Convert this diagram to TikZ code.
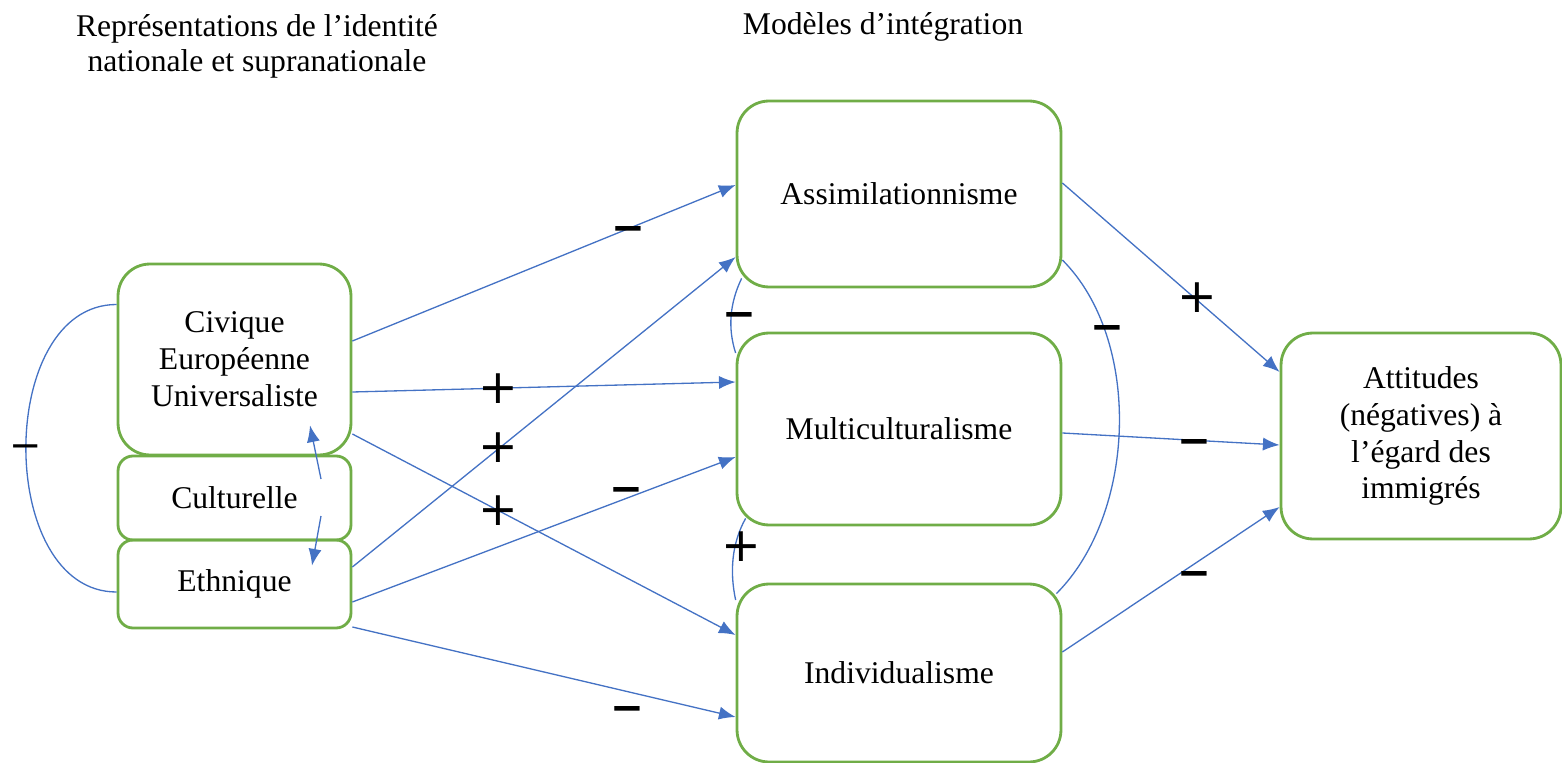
\documentclass[tikz,border=0pt]{standalone}
\usepackage{fontspec}
\setmainfont{Liberation Serif}
\newfontfamily\signfont{DejaVu Sans}
\usetikzlibrary{arrows.meta,calc}
\definecolor{boxgreen}{HTML}{70AD47}
\definecolor{linkblue}{HTML}{4472C4}

\begin{document}
\begin{tikzpicture}[x=0.02cm,y=-0.02cm]
		\tikzstyle{mybox}=[draw=boxgreen,line width=1.6pt,rounded corners=0.64cm,align=center,inner sep=0pt,font=\fontsize{18}{21}\selectfont]
		\tikzstyle{mysmallbox}=[mybox,rounded corners=0.3cm]
		\tikzstyle{mytitle}=[align=center,inner sep=0pt,font=\fontsize{18}{20}\selectfont]
		\tikzstyle{myarrow}=[linkblue,line width=0.75pt,-{Latex[length=9.5pt,width=7.5pt]}]
		\tikzstyle{mylink}=[linkblue,line width=0.75pt]
		\tikzstyle{mysign}=[inner sep=0pt,text height=16.4pt,text depth=0pt,font=\signfont\bfseries\fontsize{23}{23}\selectfont]
		\tikzstyle{myplus}=[inner sep=0pt,text height=17.8pt,text depth=0pt,font=\signfont\fontsize{27}{27}\selectfont]

		\useasboundingbox (0,0) rectangle (1562,763);

		\node[mytitle] (tident) at (257,46) {Représentations de l’identité\\nationale et supranationale};
		\node[mytitle] (tinteg) at (883,27) {Modèles d’intégration};

		\node[mybox,minimum width=4.66cm,minimum height=3.82cm] (civ) at (234.5,359.5) {Civique\\Européenne\\Universaliste};
		\node[mysmallbox,minimum width=4.66cm,minimum height=1.68cm] (cult) at (234.5,498) {Culturelle};
		\node[mysmallbox,minimum width=4.66cm,minimum height=1.76cm] (eth) at (234.5,584) {Ethnique};

		\node[mybox,minimum width=6.48cm,minimum height=3.72cm] (assim) at (899,194) {Assimilationnisme};
		\node[mybox,minimum width=6.48cm,minimum height=3.84cm] (multi) at (899,429) {Multiculturalisme};
		\node[mybox,minimum width=6.48cm,minimum height=3.56cm] (indiv) at (899,673) {Individualisme};

		\node[mybox,minimum width=5.6cm,minimum height=4.12cm] (att) at (1421,436) {Attitudes\\(négatives) à\\l’égard des\\immigrés};

		% identite -> modeles
		\foreach \a/\da/\b/\db in {civ/-18.5/assim/-9, civ/32.5/multi/-47, civ/74.5/indiv/-38, eth/-17/assim/63, eth/18/multi/28, eth/43/indiv/44} { \draw[myarrow] ($(\a.east)+(0,\da)$) -- ($(\b.west)+(0,\db)$);}
		% modeles -> attitudes
		\foreach \a/\da/\db in {assim/-11/-64, multi/4/9, indiv/-21/71} { \draw[myarrow] ($(\a.east)+(0,\da)$) -- ($(att.west)+(0,\db)$);}

		\draw[myarrow] ($(cult.center)+(86.5,-19)$) -- ($(civ.south)+(75.5,-31)$);
		\draw[myarrow] ($(cult.center)+(86.5,18)$) -- ($(eth.north)+(77.5,27)$);

		% correlations
		\draw[mylink] ($(civ.west)+(0,-55)$) .. controls +(-121,0) and +(-121,0) .. ($(eth.west)+(0,8)$);
		\draw[mylink] ($(assim.south west)+(6,-10)$) .. controls +(-12,25) and +(-8,-25) .. ($(multi.west)+(0,-76)$);
		\draw[mylink] ($(multi.south west)+(10,-8)$) .. controls +(-14,25) and +(-6,-28) .. ($(indiv.west)+(0,-73)$);
		\draw[mylink] ($(assim.east)+(0,66)$) .. controls +(80,80) and +(80,-80) .. ($(indiv.north east)+(-6,11)$);

		\foreach \n/\x/\y in {mneg1/628/227, mneg2/626/488, mneg3/627/707, mneg4/739/313, mneg5/1107/326, mneg6/1194/440, mneg7/1194/572} { \node[mysign] (\n) at (\x,\y) {−};}
		\foreach \n/\x/\y in {mpos1/498/388, mpos2/498/447, mpos3/498/510, mpos4/741/546, mpos5/1197/297} { \node[myplus] (\n) at (\x,\y) {+};}
		\node[mysign,font=\signfont\fontsize{22}{22}\selectfont] (mneg0) at (26,444) {−};
	\end{tikzpicture}
\end{document}
